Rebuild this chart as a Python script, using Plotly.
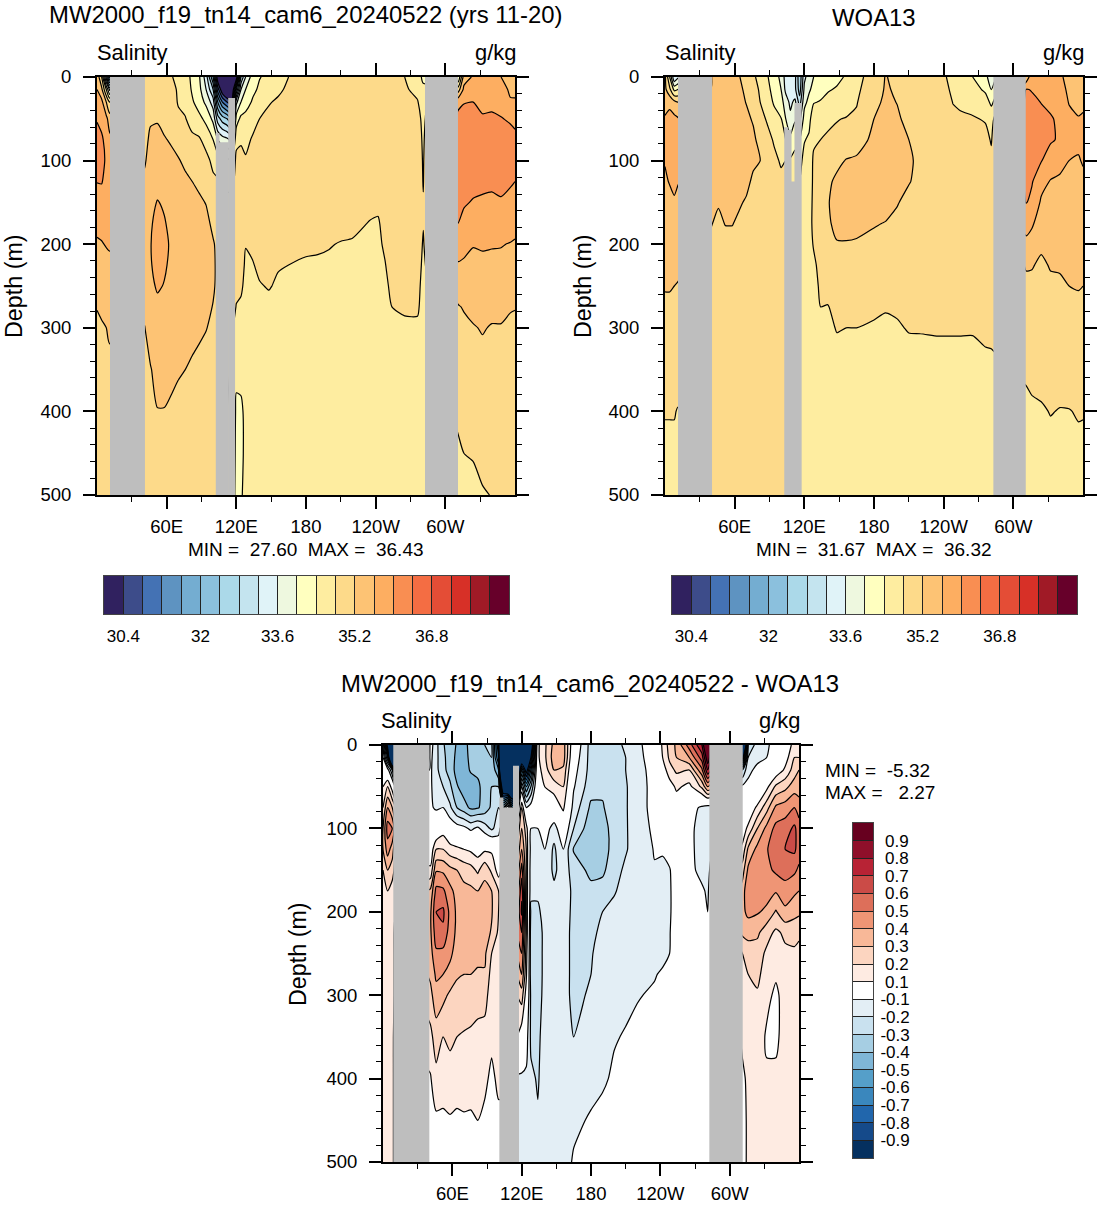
import numpy as np
import plotly.graph_objects as go

# Longitude (deg E) and depth (m) of the section grid
LON = [0, 4, 8, 11, 41, 46, 52, 58, 64, 70, 76, 82, 88, 94, 100, 104, 108, 112, 116, 120, 124, 128,
       134, 140, 148, 156, 165, 180, 190, 200, 210, 220, 235, 242, 248, 254, 265, 276, 281,
       311, 316, 324, 332, 340, 348, 356, 360]
DEPTH = [0, 15, 30, 50, 75, 100, 125, 150, 175, 200, 225, 250, 275, 300, 350, 400, 450, 500]

# Model salinity (g/kg), one row per longitude
SAL_MODEL = [
 [35.5,35.6,35.8,35.98,36.1,36.1,36.01,35.85,35.7,35.55,35.45,35.33,35.21,35.15,35.05,35.0,34.95,34.85],
 [34.8,35.3,35.7,35.9,36.05,36.1,36.02,35.85,35.7,35.58,35.48,35.35,35.25,35.17,35.07,35.0,34.95,34.85],
 [33.0,34.4,35.2,35.7,35.9,35.95,35.9,35.8,35.7,35.62,35.5,35.38,35.28,35.2,35.1,35.02,34.95,34.9],
 [31.5,33.5,34.8,35.4,35.7,35.8,35.8,35.75,35.7,35.65,35.5,35.4,35.32,35.25,35.12,35.05,35.0,34.95],
 [34.9,34.95,35.0,35.05,35.12,35.17,35.25,35.3,35.35,35.4,35.4,35.35,35.28,35.19,35.1,35.05,35.0,34.95],
 [34.95,35.0,35.08,35.17,35.25,35.3,35.38,35.48,35.55,35.58,35.56,35.5,35.45,35.35,35.18,35.08,35.02,34.98],
 [34.95,35.0,35.08,35.18,35.27,35.35,35.45,35.62,35.72,35.78,35.75,35.65,35.5,35.42,35.3,35.19,35.1,35.03],
 [34.9,34.95,35.02,35.12,35.22,35.3,35.4,35.55,35.63,35.68,35.65,35.58,35.5,35.42,35.3,35.19,35.1,35.03],
 [34.82,34.9,34.97,35.05,35.17,35.27,35.35,35.45,35.5,35.55,35.52,35.5,35.45,35.4,35.26,35.16,35.08,35.02],
 [34.72,34.76,34.77,34.88,35.1,35.22,35.3,35.38,35.42,35.45,35.45,35.42,35.4,35.35,35.22,35.14,35.07,35.02],
 [34.6,34.65,34.7,34.82,35.0,35.15,35.25,35.32,35.38,35.42,35.42,35.4,35.37,35.32,35.2,35.12,35.05,35.0],
 [34.3,34.35,34.45,34.65,34.88,35.08,35.2,35.28,35.33,35.38,35.38,35.36,35.32,35.28,35.16,35.1,35.04,35.0],
 [34.05,34.12,34.22,34.5,34.85,35.02,35.15,35.24,35.3,35.35,35.35,35.33,35.3,35.25,35.12,35.07,35.02,34.98],
 [33.4,33.6,33.9,34.3,34.65,34.92,35.08,35.19,35.26,35.3,35.3,35.29,35.26,35.21,35.08,35.04,35.0,34.97],
 [32.0,32.8,33.4,33.9,34.4,34.7,34.88,35.05,35.15,35.22,35.24,35.23,35.19,35.14,35.05,35.0,34.97,34.95],
 [30.0,31.0,32.0,33.0,34.0,34.6,34.85,35.0,35.1,35.15,35.15,35.15,35.12,35.1,35.0,34.95,34.9,34.9],
 [29.5,30.0,31.2,32.6,33.8,34.5,34.8,35.0,35.1,35.15,35.15,35.15,35.1,35.1,35.0,34.95,34.9,34.85],
 [28.0,29.5,30.8,32.4,33.7,34.5,34.7,34.9,35.0,35.1,35.1,35.1,35.05,35.0,34.9,34.8,34.75,34.7],
 [28.0,29.5,30.5,32.0,33.5,34.4,34.7,34.9,34.95,35.0,35.0,35.0,35.0,34.9,34.75,34.6,34.55,34.5],
 [30.0,32.0,33.5,34.2,34.7,34.9,34.9,34.9,34.95,35.0,34.95,34.9,34.78,34.6,34.45,34.36,34.35,34.35],
 [32.8,33.6,34.0,34.5,34.78,34.85,34.95,35.0,35.0,34.95,34.9,34.85,34.75,34.65,34.45,34.37,34.37,34.38],
 [33.6,34.0,34.2,34.55,34.75,34.82,34.9,34.95,34.95,34.81,34.76,34.72,34.65,34.6,34.5,34.44,34.43,34.45],
 [34.2,34.3,34.45,34.73,34.82,34.9,34.92,34.92,34.9,34.83,34.79,34.73,34.68,34.6,34.52,34.5,34.48,34.47],
 [34.38,34.47,34.68,34.8,34.88,34.92,34.93,34.93,34.92,34.88,34.83,34.79,34.72,34.66,34.56,34.52,34.5,34.48],
 [34.5,34.62,34.78,34.87,34.92,34.94,34.94,34.93,34.92,34.88,34.85,34.81,34.76,34.68,34.57,34.53,34.5,34.48],
 [34.6,34.75,34.84,34.9,34.93,34.95,34.95,34.94,34.92,34.87,34.81,34.78,34.72,34.68,34.58,34.54,34.5,34.48],
 [34.8,34.85,34.88,34.92,34.95,34.96,34.96,34.95,34.92,34.85,34.8,34.76,34.71,34.67,34.58,34.54,34.5,34.48],
 [34.9,34.92,34.94,34.96,34.97,34.97,34.96,34.95,34.9,34.83,34.78,34.74,34.7,34.66,34.58,34.54,34.5,34.48],
 [34.91,34.93,34.95,34.96,34.97,34.97,34.96,34.94,34.89,34.82,34.78,34.74,34.7,34.66,34.58,34.54,34.5,34.48],
 [34.92,34.94,34.96,34.97,34.98,34.98,34.97,34.94,34.88,34.81,34.77,34.73,34.69,34.65,34.58,34.54,34.5,34.48],
 [34.92,34.94,34.96,34.97,34.98,34.98,34.97,34.93,34.86,34.79,34.76,34.72,34.69,34.65,34.58,34.54,34.5,34.48],
 [34.92,34.94,34.96,34.97,34.98,34.98,34.96,34.92,34.85,34.78,34.75,34.72,34.68,34.64,34.58,34.54,34.5,34.48],
 [34.9,34.92,34.95,34.97,34.98,34.97,34.93,34.86,34.79,34.76,34.74,34.71,34.67,34.63,34.58,34.54,34.5,34.48],
 [34.9,34.92,34.95,34.97,34.98,34.97,34.92,34.84,34.78,34.76,34.74,34.71,34.67,34.63,34.58,34.54,34.5,34.48],
 [34.88,34.9,34.93,34.95,34.96,34.96,34.94,34.9,34.86,34.83,34.79,34.75,34.7,34.65,34.58,34.54,34.5,34.48],
 [34.86,34.88,34.9,34.92,34.94,34.95,34.95,34.94,34.92,34.9,34.88,34.85,34.8,34.72,34.6,34.55,34.5,34.48],
 [34.8,34.84,34.88,34.9,34.92,34.93,34.94,34.94,34.93,34.92,34.9,34.87,34.83,34.76,34.62,34.55,34.5,34.48],
 [34.6,34.72,34.82,34.9,34.92,34.92,34.92,34.92,34.92,34.91,34.9,34.87,34.84,34.75,34.62,34.55,34.5,34.48],
 [34.3,34.5,34.65,34.72,34.76,34.78,34.79,34.81,34.81,34.78,34.75,34.72,34.7,34.68,34.6,34.55,34.5,34.48],
 [34.0,35.0,35.9,36.1,36.2,36.25,36.2,36.1,36.0,35.85,35.55,35.35,35.18,35.12,35.0,34.86,34.75,34.65],
 [35.4,35.7,35.98,36.15,36.2,36.25,36.22,36.03,35.92,35.7,35.55,35.45,35.22,35.14,35.05,34.93,34.8,34.7],
 [35.65,35.75,36.0,36.15,36.25,36.25,36.08,35.98,35.85,35.62,35.5,35.4,35.28,35.18,35.08,34.97,34.82,34.72],
 [35.7,35.8,35.93,36.03,36.2,36.2,36.08,35.95,35.8,35.65,35.5,35.4,35.3,35.22,35.1,35.0,34.9,34.77],
 [35.72,35.82,35.93,36.05,36.2,36.2,36.05,35.95,35.82,35.63,35.5,35.4,35.28,35.18,35.08,35.0,34.92,34.81],
 [35.6,35.72,35.85,36.02,36.2,36.2,36.08,35.97,35.85,35.62,35.5,35.4,35.28,35.18,35.08,35.0,34.93,34.85],
 [35.5,35.55,35.63,35.95,36.15,36.2,36.02,35.95,35.8,35.58,35.48,35.38,35.22,35.15,35.06,35.0,34.95,34.9],
 [35.4,35.5,35.65,35.9,36.1,36.2,36.0,35.93,35.75,35.55,35.45,35.33,35.21,35.15,35.05,35.0,34.95,34.88],
]

# Observed climatology (g/kg), one row per longitude
SAL_OBS = [
 [35.3,35.3,35.4,35.65,35.7,35.62,35.55,35.5,35.45,35.38,35.3,35.22,35.15,35.1,35.0,34.82,34.72,34.65],
 [34.4,34.9,35.5,35.72,35.8,35.75,35.62,35.5,35.45,35.38,35.3,35.22,35.15,35.1,35.0,34.82,34.72,34.65],
 [33.2,34.3,35.3,35.7,35.8,35.8,35.68,35.56,35.47,35.4,35.3,35.2,35.15,35.1,35.0,34.82,34.72,34.65],
 [33.5,34.4,35.2,35.62,35.72,35.72,35.62,35.52,35.45,35.38,35.28,35.18,35.12,35.08,34.98,34.78,34.7,34.65],
 [35.25,35.25,35.25,35.28,35.3,35.28,35.25,35.21,35.2,35.15,35.05,34.98,34.95,34.92,34.88,34.85,34.82,34.82],
 [35.22,35.25,35.28,35.3,35.32,35.32,35.3,35.22,35.15,35.08,35.02,34.98,34.95,34.92,34.88,34.85,34.83,34.82],
 [35.22,35.25,35.28,35.32,35.36,35.36,35.33,35.28,35.21,35.12,35.05,35.0,34.96,34.93,34.88,34.85,34.83,34.82],
 [35.22,35.25,35.28,35.32,35.36,35.36,35.34,35.28,35.21,35.12,35.05,35.0,34.96,34.93,34.88,34.85,34.83,34.82],
 [35.21,35.25,35.28,35.3,35.35,35.35,35.32,35.23,35.15,35.08,35.03,34.99,34.95,34.93,34.88,34.85,34.83,34.82],
 [35.1,35.15,35.19,35.26,35.32,35.33,35.27,35.17,35.08,35.03,35.0,34.97,34.94,34.92,34.88,34.85,34.83,34.82],
 [34.85,34.95,35.05,35.17,35.26,35.25,35.15,35.08,35.03,35.0,34.98,34.95,34.93,34.91,34.88,34.85,34.83,34.82],
 [34.7,34.75,34.8,34.95,35.1,35.2,35.12,35.06,35.02,34.98,34.96,34.94,34.92,34.9,34.87,34.85,34.83,34.82],
 [34.45,34.52,34.6,34.75,34.95,35.02,35.02,35.0,34.98,34.96,34.95,34.94,34.92,34.9,34.87,34.85,34.83,34.82],
 [34.1,34.25,34.35,34.55,34.75,34.9,34.95,34.95,34.95,34.95,34.94,34.93,34.92,34.9,34.87,34.85,34.83,34.82],
 [33.95,34.0,34.15,34.42,34.65,34.75,34.9,34.92,34.92,34.92,34.92,34.92,34.91,34.9,34.87,34.85,34.83,34.82],
 [33.4,33.5,33.8,34.0,34.4,34.8,34.9,34.9,34.9,34.9,34.9,34.9,34.9,34.88,34.87,34.85,34.83,34.82],
 [33.3,33.4,33.5,33.7,34.1,34.45,34.5,34.6,34.7,34.7,34.7,34.7,34.7,34.7,34.7,34.65,34.6,34.6],
 [33.3,33.3,33.7,33.95,34.3,34.5,34.6,34.6,34.6,34.6,34.6,34.6,34.6,34.6,34.6,34.55,34.5,34.5],
 [32.5,32.6,33.0,33.5,34.0,34.3,34.4,34.45,34.5,34.5,34.5,34.5,34.5,34.5,34.45,34.45,34.45,34.45],
 [33.5,33.7,33.9,34.15,34.38,34.5,34.55,34.58,34.6,34.6,34.55,34.52,34.5,34.48,34.45,34.45,34.45,34.45],
 [33.8,33.95,34.1,34.3,34.45,34.6,34.65,34.7,34.72,34.7,34.68,34.65,34.6,34.58,34.5,34.47,34.45,34.45],
 [34.0,34.1,34.38,34.6,34.75,34.85,34.85,34.85,34.85,34.82,34.75,34.7,34.65,34.6,34.52,34.48,34.46,34.45],
 [34.2,34.3,34.42,34.65,34.8,34.88,34.9,34.95,34.95,34.92,34.88,34.85,34.8,34.72,34.6,34.5,34.48,34.45],
 [34.3,34.38,34.46,34.72,34.85,35.0,35.12,35.17,35.15,35.05,34.95,34.88,34.79,34.72,34.6,34.52,34.48,34.45],
 [34.35,34.42,34.55,34.78,34.9,35.1,35.28,35.33,35.28,35.18,35.0,34.9,34.85,34.82,34.65,34.55,34.5,34.46],
 [34.42,34.5,34.62,34.82,34.95,35.22,35.3,35.35,35.3,35.18,35.02,34.92,34.86,34.8,34.68,34.56,34.5,34.46],
 [34.7,34.74,34.78,34.85,35.05,35.25,35.32,35.35,35.28,35.17,35.0,34.93,34.87,34.8,34.66,34.56,34.5,34.46],
 [34.95,35.0,35.1,35.2,35.28,35.32,35.32,35.3,35.22,35.13,35.03,34.96,34.85,34.77,34.68,34.56,34.5,34.46],
 [35.22,35.24,35.27,35.3,35.32,35.34,35.33,35.3,35.19,35.1,35.03,34.96,34.82,34.75,34.67,34.56,34.5,34.46],
 [35.1,35.15,35.19,35.25,35.3,35.33,35.3,35.22,35.12,35.05,35.0,34.95,34.84,34.77,34.66,34.56,34.5,34.46],
 [34.98,35.0,35.05,35.1,35.2,35.25,35.22,35.1,35.03,34.98,34.94,34.92,34.88,34.82,34.66,34.56,34.5,34.46],
 [34.95,34.97,35.0,35.03,35.08,35.12,35.1,35.05,35.0,34.97,34.93,34.9,34.87,34.82,34.68,34.56,34.5,34.46],
 [34.88,34.92,34.96,34.99,35.0,35.0,34.98,34.96,34.94,34.93,34.92,34.9,34.87,34.83,34.68,34.56,34.5,34.46],
 [34.81,34.87,34.93,34.97,34.98,34.98,34.97,34.95,34.93,34.92,34.91,34.9,34.87,34.83,34.68,34.56,34.5,34.46],
 [34.65,34.72,34.79,34.88,34.94,34.96,34.96,34.95,34.93,34.92,34.91,34.9,34.87,34.83,34.68,34.56,34.5,34.46],
 [34.55,34.66,34.75,34.85,34.92,34.94,34.95,34.95,34.93,34.92,34.91,34.9,34.87,34.83,34.68,34.56,34.5,34.46],
 [34.4,34.58,34.72,34.82,34.9,34.93,34.94,34.94,34.93,34.92,34.91,34.9,34.87,34.83,34.67,34.56,34.5,34.46],
 [34.1,34.32,34.6,34.78,34.87,34.9,34.92,34.92,34.92,34.92,34.91,34.9,34.88,34.86,34.73,34.58,34.5,34.46],
 [33.8,34.0,34.3,34.7,34.78,34.85,34.88,34.9,34.9,34.9,34.9,34.9,34.88,34.85,34.75,34.58,34.5,34.46],
 [35.3,36.02,36.1,36.15,36.2,36.15,36.08,36.02,35.75,35.5,35.22,35.15,35.08,35.0,34.85,34.72,34.65,34.6],
 [35.88,35.98,36.08,36.15,36.2,36.15,36.03,35.9,35.65,35.45,35.22,35.13,35.1,35.03,34.88,34.75,34.68,34.6],
 [35.85,35.92,35.99,36.1,36.2,36.02,35.72,35.55,35.42,35.25,35.15,35.1,35.05,35.0,34.9,34.77,34.7,34.65],
 [35.75,35.82,35.88,36.05,36.05,35.8,35.58,35.45,35.38,35.26,35.22,35.15,35.08,35.0,34.92,34.81,34.72,34.65],
 [35.68,35.75,35.82,35.9,35.95,35.75,35.52,35.42,35.35,35.27,35.22,35.17,35.08,35.0,34.9,34.79,34.72,34.66],
 [35.45,35.52,35.58,35.7,35.72,35.6,35.48,35.42,35.35,35.3,35.25,35.2,35.1,35.05,34.95,34.79,34.72,34.66],
 [35.25,35.35,35.5,35.62,35.65,35.58,35.46,35.4,35.33,35.28,35.25,35.22,35.13,35.08,34.98,34.82,34.74,34.68],
 [35.2,35.3,35.52,35.65,35.7,35.62,35.55,35.48,35.42,35.36,35.28,35.2,35.13,35.08,34.98,34.82,34.72,34.65],
]

# Model minus climatology (g/kg), one row per longitude
SAL_DIFF = [
 [-.2,-.1,0,.1,.2,.3,.3,.2,.15,.14,.13,.13,.13,.13,.13,.13,.13,.13],
 [-1,-.5,-.05,.2,.4,.55,.45,.3,.2,.15,.14,.13,.13,.13,.13,.13,.13,.13],
 [-3,-2,-.3,.05,.3,.5,.35,.25,.15,.12,.11,.11,.11,.11,.11,.11,.11,.11],
 [-4,-2,-.8,-.1,.2,.3,.2,.15,.12,.1,.09,.09,.09,.09,.08,.08,.08,.08],
 [-.05,-.07,-.08,-.08,-.09,-.06,.02,.12,.32,.38,.38,.36,.32,.27,.17,.09,.05,.03],
 [-.17,-.17,-.17,-.16,-.11,-.03,.2,.39,.53,.6,.56,.48,.42,.36,.25,.17,.08,.04],
 [-.29,-.28,-.27,-.2,-.1,.05,.2,.38,.52,.62,.58,.47,.4,.33,.2,.15,.08,.04],
 [-.35,-.34,-.34,-.28,-.18,-.02,.14,.33,.43,.47,.45,.42,.37,.28,.22,.16,.09,.04],
 [-.41,-.43,-.44,-.39,-.3,-.05,.12,.3,.36,.38,.38,.36,.31,.27,.2,.15,.08,.04],
 [-.42,-.43,-.44,-.45,-.36,-.07,.1,.26,.33,.36,.36,.33,.3,.26,.19,.14,.09,.04],
 [-.38,-.38,-.39,-.45,-.42,-.12,.08,.24,.32,.35,.35,.33,.3,.26,.18,.13,.09,.04],
 [-.35,-.36,-.38,-.42,-.41,-.08,.05,.18,.3,.34,.34,.32,.29,.24,.17,.12,.1,.05],
 [-.3,-.31,-.33,-.36,-.36,-.15,.08,.27,.33,.34,.34,.32,.29,.25,.15,.11,.09,.05],
 [-.28,-.3,-.31,-.3,-.28,-.22,.08,.18,.3,.31,.29,.2,.16,.13,.11,.09,.06,.04],
 [-.8,-.7,-.5,-.3,-.2,-.15,0,.05,.2,.2,.18,.16,.14,.13,.12,.11,.09,.08],
 [-3,-3,-2.5,-1.2,-.3,0,.1,.15,.2,.2,.18,.16,.14,.13,.12,.11,.09,.08],
 [-3,-3,-2.6,-1.4,0,.1,.1,.15,.2,.2,.18,.16,.14,.13,.12,.11,.09,.08],
 [-4,-4,-3,-1.5,-.5,.1,.1,.15,.2,.2,.2,.2,.2,.2,.15,.05,.05,.05],
 [-5,-4,-1.5,-1,-.3,.1,.2,.3,.4,.5,.5,.4,.3,.2,.1,-.12,-.12,-.12],
 [-2,-1.2,-.6,-.2,.2,.3,.4,.55,.68,.72,.6,.5,.4,.25,.03,-.12,-.12,-.12],
 [-2,-1.5,-1,-.5,-.1,.15,.2,.2,.2,.2,.2,.15,.12,.05,-.05,-.12,-.12,-.12],
 [-1.2,-.9,-.6,-.3,-.05,-.1,-.15,-.18,-.18,-.22,-.25,-.25,-.25,-.22,-.22,-.18,-.13,-.12],
 [.08,.08,.06,.05,0,-.1,-.12,-.15,-.18,-.22,-.25,-.25,-.25,-.24,-.22,-.21,-.19,-.12],
 [.18,.18,.15,.1,.03,-.04,-.1,-.13,-.15,-.16,-.17,-.17,-.17,-.17,-.16,-.15,-.13,-.12],
 [.33,.35,.3,.14,.03,-.15,-.22,-.22,-.18,-.19,-.19,-.18,-.17,-.15,-.13,-.12,-.12,-.12],
 [.35,.35,.28,.2,.12,0,-.1,-.15,-.15,-.16,-.17,-.17,-.17,-.17,-.15,-.13,-.12,-.12],
 [0,-.03,-.06,-.09,-.14,-.2,-.31,-.24,-.22,-.22,-.22,-.22,-.22,-.22,-.2,-.14,-.11,-.095],
 [-.24,-.24,-.24,-.26,-.32,-.37,-.38,-.33,-.27,-.25,-.23,-.21,-.2,-.19,-.15,-.115,-.095,-.08],
 [-.24,-.24,-.26,-.28,-.31,-.35,-.36,-.32,-.26,-.2,-.17,-.15,-.14,-.13,-.115,-.11,-.08,-.06],
 [-.22,-.22,-.23,-.24,-.24,-.25,-.25,-.24,-.21,-.17,-.15,-.14,-.13,-.12,-.105,-.09,-.05,-.03],
 [-.19,-.2,-.2,-.21,-.21,-.21,-.21,-.18,-.16,-.15,-.14,-.13,-.12,-.115,-.095,-.06,-.04,-.02],
 [-.12,-.13,-.14,-.14,-.14,-.15,-.15,-.14,-.13,-.13,-.13,-.12,-.115,-.105,-.08,-.05,-.03,-.01],
 [-.05,-.05,-.06,-.07,-.07,-.08,-.095,-.105,-.12,-.13,-.13,-.12,-.105,-.09,-.07,-.05,-.03,-.01],
 [.12,.1,.04,-.02,-.05,-.07,-.09,-.12,-.13,-.13,-.13,-.12,-.09,-.07,-.05,-.03,-.02,-.01],
 [.24,.22,.16,.05,-.02,-.05,-.07,-.105,-.11,-.11,-.105,-.1,-.07,-.05,-.04,-.02,-.01,0],
 [.32,.3,.22,.12,.03,-.03,-.05,-.06,-.06,-.06,-.05,-.05,-.04,-.04,-.03,-.02,-.01,0],
 [.55,.4,.2,.07,-.05,-.08,-.08,-.08,-.07,-.06,-.05,-.05,-.04,-.04,-.03,-.02,-.01,0],
 [.8,.65,.48,.22,-.12,-.13,-.13,-.12,-.09,-.06,-.05,-.05,-.04,-.04,-.03,-.02,-.01,-.01],
 [1.2,1,.8,.4,-.15,-.13,-.13,-.12,-.11,-.1,-.1,-.1,-.09,-.09,-.09,-.08,-.05,-.05],
 [-2,-1,-.3,-.08,-.05,.05,.12,.25,.35,.38,.32,.2,.12,.11,.11,.09,.08,.08],
 [-.3,-.2,-.12,-.08,.02,.12,.32,.42,.48,.42,.35,.22,.2,.13,.12,.11,.11,.11],
 [-.15,-.12,-.08,-.03,.12,.3,.43,.48,.46,.41,.32,.25,.22,.19,.14,.12,.12,.12],
 [-.12,-.1,-.05,.07,.26,.43,.49,.47,.44,.38,.24,.18,.16,.12,.09,.11,.11,.11],
 [-.05,-.02,.02,.22,.42,.53,.57,.52,.41,.29,.18,.13,.11,.085,.09,.11,.12,.12],
 [0,.05,.12,.27,.45,.55,.6,.55,.45,.38,.22,.18,.15,.13,.12,.12,.12,.12],
 [.15,.2,.25,.35,.5,.62,.62,.52,.42,.33,.24,.18,.15,.14,.13,.12,.12,.12],
 [.18,.2,.3,.35,.45,.55,.55,.48,.4,.32,.22,.17,.15,.14,.13,.12,.12,.12],
]

# Contour levels and their fill colours
SAL_LEVELS = [30.4, 30.8, 31.2, 31.6, 32.0, 32.4, 32.8, 33.2, 33.6, 34.0,
              34.4, 34.8, 35.2, 35.6, 36.0, 36.4, 36.8, 37.2, 37.6, 38.0]
SAL_COLORS = ['#30215f', '#3d4c8a', '#4472b4', '#5e93c1', '#74add1', '#8bc0dd', '#abd9e9',
              '#c4e4ef', '#e0f3f8', '#eef8df', '#ffffbf', '#feeda0', '#fdda8a', '#fdc374',
              '#fdae61', '#f98e52', '#f46d43', '#e44d36', '#d73027', '#a01a26', '#67002a']
DIFF_LEVELS = [-0.9, -0.8, -0.7, -0.6, -0.5, -0.4, -0.3, -0.2, -0.1,
               0.1, 0.2, 0.3, 0.4, 0.5, 0.6, 0.7, 0.8, 0.9]
DIFF_COLORS = ['#05305f', '#154a8a', '#2166ac', '#3a87bd', '#559fc9', '#7fb6d7', '#a6cee3',
               '#c9e1ef', '#e3eef5', '#ffffff', '#feebe2', '#fcd5c0', '#f8b898', '#ef9575',
               '#dd6f5a', '#cb4b47', '#b82335', '#8f0f2a', '#67001f']

# Continents: west edge, east edge and the depth where each land block starts
LAND_MODEL = dict(west=[11.2, 102.3, 105, 113, 282.5], east=[41.3, 105.5, 113.5, 118.9, 310.9],
                  top=[0, 67, 78, 25, 0])
LAND_OBS = dict(west=[11.2, 102.7, 105.5, 108.5, 111.5, 282.8], east=[40.5, 106, 109, 112, 117.7, 310.7],
                top=[0, 60, 63, 125, 31, 0])
LAND_DIFF = dict(west=[8.9, 100.7, 103.7, 112.5, 282.4], east=[40.1, 104.2, 113, 117.7, 311.3],
                 top=[0, 63, 75, 25, 0])

LON_TICKS = [60, 120, 180, 240, 300]
LON_LABELS = ['60E', '120E', '180', '120W', '60W']
LON_MINOR = [30, 90, 150, 210, 270, 330]
DEPTH_TICKS = [0, 100, 200, 300, 400, 500]
DEPTH_MINOR = [d for d in range(0, 501, 20) if d % 100]

W, H = 1101, 1208
FONT = 'Liberation Sans, Arial, sans-serif'
GRAY = '#bebebe'


def fx(px):
    return px / W


def fy(py):
    return 1 - py / H


def step_scale(colors):
    n = len(colors) - 1
    return [[i / n, c] for i, c in enumerate(colors)]


fig = go.Figure()
layout = dict(width=W, height=H, margin=dict(l=0, r=0, t=0, b=0, autoexpand=False), paper_bgcolor='white',
              plot_bgcolor='white', showlegend=False, font=dict(family=FONT, color='black'),
              annotations=[])


def text(px, py, s, size, anchor='center', angle=0):
    layout['annotations'].append(dict(x=fx(px), y=fy(py), xref='paper', yref='paper', text=s, showarrow=False,
                                      xanchor=anchor, yanchor='middle', textangle=angle,
                                      font=dict(family=FONT, size=size, color='black')))


def section(idx, box, z, land, diff=False):
    suffix = str(idx) if idx > 1 else ''
    xa, ya = 'x' + suffix, 'y' + suffix
    values = np.array(z, dtype=float).T
    line = dict(color='black', width=1.2, smoothing=0.6)
    if diff:
        colors = DIFF_COLORS[:10] + ['#ffffff'] + DIFF_COLORS[10:]
        fig.add_trace(go.Contour(x=LON, y=DEPTH, z=values, xaxis=xa, yaxis=ya, showscale=False, autocontour=False,
                                 colorscale=step_scale(colors), hoverinfo='skip',
                                 contours=dict(start=-0.9, end=0.901, size=0.1, coloring='fill', showlines=False),
                                 line=dict(width=0)))
        for lo, hi in ((-0.9, -0.099), (0.1, 0.901)):
            fig.add_trace(go.Contour(x=LON, y=DEPTH, z=values, xaxis=xa, yaxis=ya, showscale=False, autocontour=False,
                                     hoverinfo='skip', line=line,
                                     contours=dict(start=lo, end=hi, size=0.1, coloring='none')))
    else:
        fig.add_trace(go.Contour(x=LON, y=DEPTH, z=values, xaxis=xa, yaxis=ya, showscale=False, autocontour=False,
                                 colorscale=step_scale(SAL_COLORS), hoverinfo='skip', line=line,
                                 contours=dict(start=30.4, end=38.01, size=0.4, coloring='fill')))
    west, east, top = map(np.array, (land['west'], land['east'], land['top']))
    fig.add_trace(go.Bar(x=(west + east) / 2, y=DEPTH[-1] - top, base=top, width=east - west, xaxis=xa, yaxis=ya,
                         marker=dict(color=GRAY, line=dict(width=0)), hoverinfo='skip'))
    common = dict(showline=True, linewidth=2, linecolor='black', mirror='ticks', ticks='outside', ticklen=12,
                  tickwidth=2, tickcolor='black', showgrid=False, zeroline=False,
                  tickfont=dict(family=FONT, size=18.5, color='black'))
    layout['xaxis' + suffix] = dict(common, domain=[fx(box[0]), fx(box[1])], range=[0, 360], anchor=ya,
                                    ticklabelstandoff=2, tickmode='array', tickvals=LON_TICKS, ticktext=LON_LABELS,
                                    minor=dict(tickmode='array', tickvals=LON_MINOR, ticks='outside', ticklen=5,
                                               tickwidth=1, tickcolor='black'))
    layout['yaxis' + suffix] = dict(common, domain=[fy(box[3]), fy(box[2])], range=[500, 0], anchor=xa,
                                    ticklabelstandoff=8, tickmode='array', tickvals=DEPTH_TICKS,
                                    minor=dict(tickmode='array', tickvals=DEPTH_MINOR, ticks='outside', ticklen=5,
                                               tickwidth=1, tickcolor='black'))


def hbar(idx, box):
    suffix = str(idx)
    xa, ya = 'x' + suffix, 'y' + suffix
    edges = [30.0] + SAL_LEVELS + [38.4]
    fig.add_trace(go.Heatmap(x=edges, y=[0, 1], z=[list(range(len(SAL_COLORS)))], xaxis=xa, yaxis=ya,
                             colorscale=step_scale(SAL_COLORS), zmin=0, zmax=len(SAL_COLORS) - 1,
                             showscale=False, hoverinfo='skip'))
    labels = [f'{v:g}' if i % 4 == 0 else '' for i, v in enumerate(SAL_LEVELS)]
    layout['xaxis' + suffix] = dict(domain=[fx(box[0]), fx(box[1])], range=[30.0, 38.4], anchor=ya, tickmode='array',
                                    tickvals=SAL_LEVELS, ticktext=labels, ticks='inside', ticklen=box[3] - box[2],
                                    tickwidth=1, tickcolor='#222', showline=True, linewidth=1, linecolor='#444',
                                    mirror=True, showgrid=False, zeroline=False, ticklabelstandoff=7,
                                    tickfont=dict(family=FONT, size=17, color='black'))
    layout['yaxis' + suffix] = dict(domain=[fy(box[3]), fy(box[2])], range=[0, 1], anchor=xa, showticklabels=False,
                                    ticks='', showline=True, linewidth=1, linecolor='#444', mirror=True,
                                    showgrid=False, zeroline=False)


def vbar(idx, box):
    suffix = str(idx)
    xa, ya = 'x' + suffix, 'y' + suffix
    n = len(DIFF_COLORS)
    fig.add_trace(go.Heatmap(x=[0, 1], y=list(range(n + 1)), z=[[i] for i in range(n)], xaxis=xa, yaxis=ya,
                             colorscale=step_scale(DIFF_COLORS), zmin=0, zmax=n - 1, showscale=False,
                             hoverinfo='skip'))
    labels = [f'{v:g}' if v < 0 else '\u00a0' + f'{v:g}' for v in DIFF_LEVELS]
    layout['xaxis' + suffix] = dict(domain=[fx(box[0]), fx(box[1])], range=[0, 1], anchor=ya, showticklabels=False,
                                    ticks='', showline=True, linewidth=1, linecolor='#444', mirror=True,
                                    showgrid=False, zeroline=False)
    layout['yaxis' + suffix] = dict(domain=[fy(box[3]), fy(box[2])], range=[0, n], anchor=xa, side='right',
                                    tickmode='array', tickvals=list(range(1, n)), ticktext=labels, ticks='inside',
                                    ticklen=box[1] - box[0], tickwidth=1, tickcolor='#222', showline=True, linewidth=1,
                                    linecolor='#444', mirror=True, showgrid=False, zeroline=False,
                                    ticklabelstandoff=3, tickfont=dict(family=FONT, size=17, color='black'))


section(1, (97, 515, 77, 495), SAL_MODEL, LAND_MODEL)
section(2, (665, 1083, 77, 495), SAL_OBS, LAND_OBS)
section(3, (383, 799, 745, 1162), SAL_DIFF, LAND_DIFF, diff=True)
hbar(4, (104, 509, 576, 614))
hbar(5, (672, 1077, 576, 614))
vbar(6, (853, 873, 823, 1158))

NB = '\u00a0'
text(306, 15, 'MW2000_f19_tn14_cam6_20240522 (yrs 11-20)', 23.9)
text(874, 17, 'WOA13', 23.9)
text(590, 683, 'MW2000_f19_tn14_cam6_20240522 - WOA13', 23.9)
for left, right, yy in ((95, 518, 52), (663, 1086, 52), (379, 802, 720)):
    text(left, yy, 'Salinity', 21.9, 'left')
    text(right, yy, 'g/kg', 21.9, 'right')
text(14, 286, 'Depth (m)', 23.3, angle=-90)
text(583, 286, 'Depth (m)', 23.3, angle=-90)
text(298, 954, 'Depth (m)', 23.3, angle=-90)
text(306, 549, f'MIN ={NB}{NB}27.60{NB}{NB}MAX ={NB}{NB}36.43', 19)
text(874, 549, f'MIN ={NB}{NB}31.67{NB}{NB}MAX ={NB}{NB}36.32', 19)
text(823, 770, f'MIN ={NB}{NB}-5.32', 19, 'left')
text(823, 792, f'MAX ={NB}{NB}{NB}2.27', 19, 'left')

fig.update_layout(**layout)
fig.write_html('out.html')
